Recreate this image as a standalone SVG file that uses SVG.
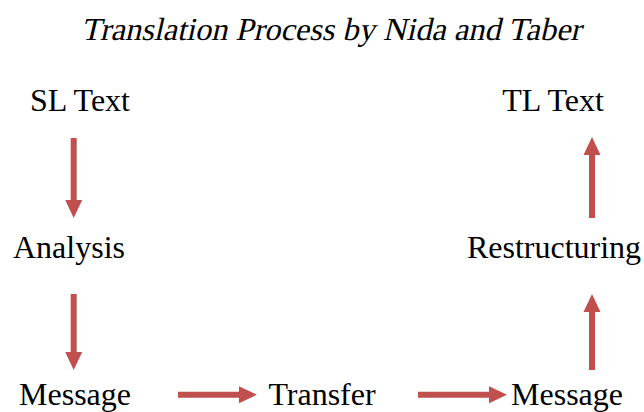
<svg xmlns="http://www.w3.org/2000/svg" width="644" height="412" viewBox="0 0 644 412">
<style>
text{font-family:"Liberation Serif","Times New Roman",serif;font-size:32px;fill:#000}
.arr{fill:#C0504D}
</style>
<rect width="644" height="412" fill="#fff"/>
<text transform="translate(331,40) skewX(-13)" x="0" y="0" text-anchor="middle" textLength="500" lengthAdjust="spacingAndGlyphs">Translation Process by Nida and Taber</text>
<g id="sl-text"><text x="80" y="111" text-anchor="middle">SL Text</text></g>
<g id="analysis"><text x="69" y="258" text-anchor="middle">Analysis</text></g>
<g id="message-sl"><text x="75" y="405" text-anchor="middle">Message</text></g>
<g id="transfer"><text x="322" y="405" text-anchor="middle">Transfer</text></g>
<g id="message-tl"><text x="567" y="405" text-anchor="middle">Message</text></g>
<g id="restructuring"><text x="554" y="258" text-anchor="middle">Restructuring</text></g>
<g id="tl-text"><text x="553" y="111" text-anchor="middle">TL Text</text></g>
<g id="connectors">
<polygon class="arr" points="70.7,138 76.7,138 76.7,200 82.2,200 73.7,218 65.2,200 70.7,200"/>
<polygon class="arr" points="70.7,294 76.7,294 76.7,352 82.2,352 73.7,370 65.2,352 70.7,352"/>
<polygon class="arr" points="178,391.7 239,391.7 239,386.2 257,394.7 239,403.2 239,397.7 178,397.7"/>
<polygon class="arr" points="418,391.7 489,391.7 489,386.2 507,394.7 489,403.2 489,397.7 418,397.7"/>
<polygon class="arr" points="589,370 595,370 595,312 600.5,312 592,294 583.5,312 589,312"/>
<polygon class="arr" points="589,218 595,218 595,155 600.5,155 592,137 583.5,155 589,155"/>
</g>
</svg>
